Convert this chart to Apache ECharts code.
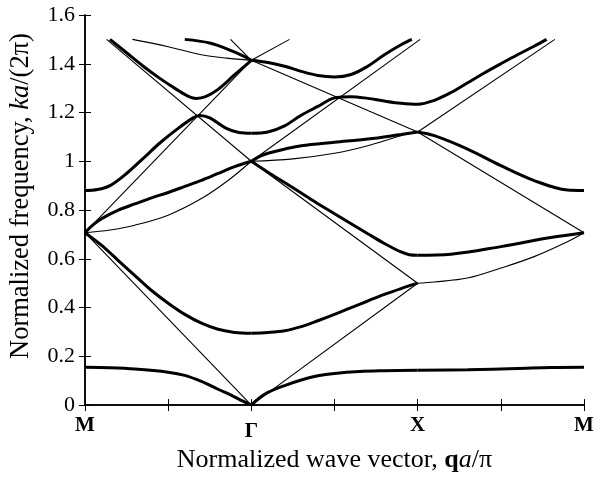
<!DOCTYPE html>
<html><head><meta charset="utf-8">
<script src="https://cdn.jsdelivr.net/npm/echarts@6/dist/echarts.min.js"></script>
<style>html,body{margin:0;padding:0;background:#fff}#c{width:606px;height:478px}</style>
</head><body><div id="c"></div>
<script>
// x positions: M=0, Γ=2, X=4, M=6
const xTickPos = [0, 2, 4, 6];
const xTickNames = ['M', 'Γ', 'X', 'M'];

// ---- M -> Γ ----
const mgLow   = [[0,0.155],[0.3,0.153],[0.6,0.148],[1.0,0.135],[1.2,0.122],[1.4,0.097],[1.6,0.065],[1.75,0.042],[1.9,0.016],[2,0]];
const mgLineA = [[0,0.707],[2,0]];
const mgB2    = [[0,0.707],[0.2,0.655],[0.4,0.593],[0.62,0.525],[0.8,0.47],[1.0,0.418],[1.2,0.372],[1.4,0.336],[1.6,0.311],[1.8,0.298],[2,0.295]];
const mgB3    = [[0,0.707],[0.3,0.718],[0.6,0.738],[1.0,0.779],[1.4,0.847],[1.72,0.921],[2,1.0]];
const mgB4    = [[0,0.707],[0.1,0.74],[0.2,0.765],[0.4,0.80],[0.6,0.825],[0.8,0.85],[1.0,0.872],[1.2,0.897],[1.4,0.922],[1.6,0.95],[1.8,0.978],[2,1.0]];
const mgLineB = [[0,0.707],[2,1.414]];
const mgB6    = [[0,0.88],[0.15,0.884],[0.3,0.9],[0.5,0.95],[0.7,1.012],[0.9,1.075],[1.1,1.13],[1.3,1.178],[1.38,1.188],[1.5,1.178],[1.7,1.135],[1.85,1.118],[2,1.115]];
const mgB7    = [[0.3,1.5],[0.5,1.445],[0.7,1.39],[0.9,1.34],[1.1,1.295],[1.25,1.265],[1.34,1.258],[1.45,1.265],[1.6,1.295],[1.8,1.355],[2,1.414]];
const mgLineC = [[0.26,1.5],[2,1.0]];
const mgB9    = [[0.57,1.5],[1.0,1.47],[1.4,1.437],[1.7,1.423],[2,1.414]];
const mgB10   = [[1.2,1.5],[1.5,1.485],[1.78,1.451],[1.9,1.432],[2,1.414]];
const mgLineD = [[1.75,1.5],[2,1.414]];

// ---- Γ -> X ----
const gxLineA = [[2,1.414],[2.46,1.5]];
const gxLow   = [[2,0],[2.1,0.03],[2.2,0.052],[2.4,0.08],[2.6,0.103],[2.8,0.12],[3.0,0.13],[3.3,0.138],[3.6,0.141],[4,0.143]];
const gxLineB = [[2,0],[4,0.5]];
const gxB1    = [[2,0.295],[2.2,0.298],[2.4,0.305],[2.6,0.322],[2.8,0.346],[3.0,0.372],[3.2,0.40],[3.4,0.427],[3.6,0.454],[3.8,0.478],[4,0.5]];
const gxLineC = [[2,1.0],[4,0.5]];
const gxB3    = [[2,1.0],[2.2,0.955],[2.4,0.913],[2.6,0.87],[2.8,0.826],[3.0,0.785],[3.2,0.744],[3.4,0.703],[3.6,0.663],[3.8,0.628],[3.9,0.617],[4,0.615]];
const gxB4    = [[2,1.0],[2.5,1.01],[3.0,1.033],[3.4,1.064],[3.8,1.105],[4,1.12]];
const gxB5    = [[2,1.0],[2.1,1.02],[2.2,1.033],[2.4,1.05],[2.6,1.064],[3.0,1.078],[3.4,1.091],[3.8,1.11],[4,1.12]];
const gxLineD = [[2,1.0],[4.03,1.5]];
const gxB7    = [[2,1.115],[2.2,1.12],[2.4,1.145],[2.585,1.186],[2.8,1.225],[3.0,1.26],[3.2,1.265],[3.4,1.258],[3.6,1.247],[3.8,1.238],[4.0,1.234],[4.2,1.25],[4.4,1.282],[4.6,1.322],[4.8,1.362],[5.0,1.40],[5.2,1.437],[5.4,1.472],[5.55,1.5]];
const gxLineE = [[2,1.414],[4,1.12]];
const gxB9    = [[2,1.414],[2.2,1.405],[2.4,1.39],[2.6,1.369],[2.8,1.352],[3.0,1.346],[3.2,1.356],[3.4,1.39],[3.6,1.437],[3.8,1.478],[3.93,1.5]];

// ---- X -> M ----
const xmLow   = [[4,0.143],[4.6,0.145],[5.2,0.15],[5.6,0.154],[6,0.155]];
const xmB1    = [[4,0.5],[4.2,0.505],[4.6,0.521],[5.0,0.562],[5.4,0.609],[5.8,0.67],[6,0.707]];
const xmB2    = [[4,0.615],[4.4,0.619],[5.0,0.65],[5.6,0.687],[6,0.707]];
const xmLineA = [[4,1.12],[6,0.707]];
const xmB4    = [[4,1.12],[4.2,1.105],[4.6,1.05],[5.0,0.982],[5.4,0.921],[5.8,0.882],[6,0.88]];
const xmLineB = [[4,1.12],[5.65,1.5]];

const thick = [mgLow, mgB2, mgB4, mgB6, mgB7, mgB10, gxLow, gxB1, gxB3, gxB5, gxB7, gxB9, xmLow, xmB2, xmB4];
const thinCurves = [mgB3, mgB9, gxB4, xmB1];
const thinLines = [mgLineA, mgLineB, mgLineC, mgLineD, gxLineA, gxLineB, gxLineC, gxLineD, gxLineE, xmLineA, xmLineB];

const FONT = "'Liberation Serif', 'DejaVu Serif', serif";
const series = [];
thick.forEach(d => series.push({type:'line', data:d, smooth:0.35, showSymbol:false, silent:true,
  lineStyle:{color:'#000', width:3}}));
thinCurves.forEach(d => series.push({type:'line', data:d, smooth:0.35, showSymbol:false, silent:true,
  lineStyle:{color:'#000', width:1.1}}));
thinLines.forEach(d => series.push({type:'line', data:d, smooth:false, showSymbol:false, silent:true,
  lineStyle:{color:'#000', width:1.1}}));

const axisLineStyle = {show:true, lineStyle:{color:'#000', width:1.5}};
const chart = echarts.init(document.getElementById('c'), null, {renderer:'canvas'});
chart.setOption({
  animation:false,
  backgroundColor:'#fff',
  textStyle:{fontFamily:FONT},
  grid:{left:85, right:22, top:15, bottom:70},
  xAxis:[{
    type:'value', min:0, max:6, interval:1, position:'bottom',
    axisLine:axisLineStyle,
    axisTick:{show:true, inside:true, length:6, lineStyle:{color:'#000', width:1}},
    splitLine:{show:false},
    axisLabel:{
      margin:10, color:'#000', fontFamily:FONT, fontSize:21, fontWeight:'bold',
      formatter: v => { const i = xTickPos.indexOf(v); if (i<0) return ''; return xTickNames[i]==='Γ' ? '{g|Γ}' : xTickNames[i]; },
      rich:{g:{fontFamily:FONT, fontSize:21, fontWeight:'bold', color:'#000', padding:[6,0,0,0]}}
    },
    name:'Normalized wave vector, {b|q}{i|a}/π',
    nameLocation:'middle', nameGap:36,
    nameTextStyle:{color:'#000', fontFamily:FONT, fontSize:26,
      rich:{b:{fontFamily:FONT, fontSize:26, fontWeight:'bold', color:'#000'},
            i:{fontFamily:FONT, fontSize:26, fontStyle:'italic', color:'#000'}}}
  },{
    type:'value', min:0, max:6, interval:1, position:'top',
    axisLine:axisLineStyle,
    axisTick:{show:true, inside:true, length:6, lineStyle:{color:'#000', width:1}},
    axisLabel:{show:false}, splitLine:{show:false}
  }],
  yAxis:[{
    type:'value', min:0, max:1.6, interval:0.2, position:'left',
    axisLine:axisLineStyle,
    axisTick:{show:true, inside:true, length:6, lineStyle:{color:'#000', width:1}},
    splitLine:{show:false},
    axisLabel:{margin:10, color:'#000', fontFamily:FONT, fontSize:22},
    name:'Normalized frequency, {i|ka}/(2π)',
    nameLocation:'middle', nameGap:50,
    nameTextStyle:{color:'#000', fontFamily:FONT, fontSize:26.5, padding:[0,0,0,28],
      rich:{i:{fontFamily:FONT, fontSize:26.5, fontStyle:'italic', color:'#000'}}}
  },{
    type:'value', min:0, max:1.6, interval:0.2, position:'right',
    axisLine:axisLineStyle,
    axisTick:{show:true, inside:true, length:6, lineStyle:{color:'#000', width:1}},
    axisLabel:{show:false}, splitLine:{show:false}
  }],
  series: series
});
</script></body></html>
